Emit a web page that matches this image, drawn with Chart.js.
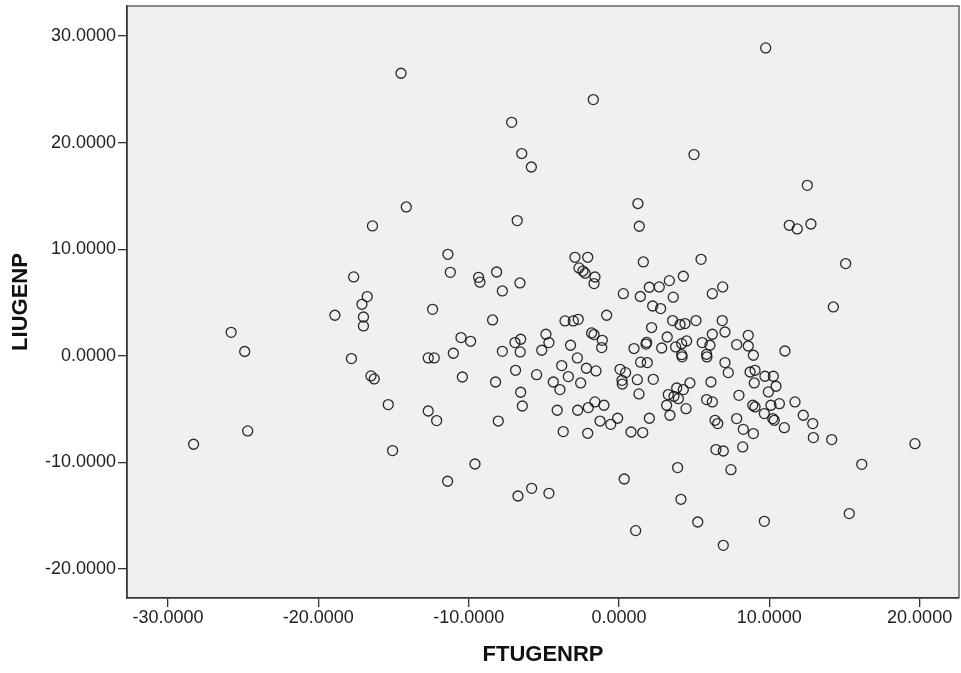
<!DOCTYPE html>
<html>
<head>
<meta charset="utf-8">
<script src="https://cdn.jsdelivr.net/npm/chart.js@4.4.0/dist/chart.umd.min.js"></script>
<style>
  html, body { margin: 0; padding: 0; background: #fff; }
  #wrap { width: 961px; height: 673px; }
</style>
</head>
<body>
<div id="wrap"><canvas id="scatterChart" width="961" height="673"></canvas></div>
<script>
// FTUGENRP (x) and LIUGENP (y)
var ftugenrp = [
  -28.3, -25.8, -24.9, -24.7, -18.9, -17.8, -17.65, -17.1, -17.0, -17.0,
  -16.75, -16.4, -16.5, -16.28, -15.35, -15.06, -14.5, -14.15, -12.4, -12.69,
  -12.29, -12.69, -12.13, -11.38, -11.22, -11.02, -11.4, -10.51, -10.42, -9.87,
  -9.58, -9.34, -9.25, -8.41, -8.21, -8.14, -8.03, -7.76, -7.76, -7.14,
  -6.92, -6.88, -6.77, -6.72, -6.59, -6.54, -6.57, -6.54, -6.43, -6.47,
  -5.83, -5.81, -5.48, -5.14, -4.86, -4.66, -4.66, -4.37, -4.11, -3.93,
  -3.81, -3.71, -3.59, -3.37, -3.22, -3.04, -2.93, -2.77, -2.75, -2.71,
  -2.66, -2.55, -2.4, -2.25, -2.17, -2.08, -2.08, -2.04, -1.82, -1.71,
  -1.66, -1.6, -1.66, -1.6, -1.53, -1.26, -1.11, -1.15, -1.0, -0.82,
  -0.55, -0.09, 0.07, 0.2, 0.22, 0.29, 0.35, 0.44, 0.8, 1.0,
  1.11, 1.22, 1.26, 1.35, 1.33, 1.42, 1.44, 1.58, 1.62, 1.84,
  1.8, 1.88, 2.02, 2.02, 2.17, 2.24, 2.28, 2.68, 2.77, 2.84,
  3.17, 3.21, 3.28, 3.35, 3.39, 3.57, 3.61, 3.66, 3.77, 3.84,
  3.9, 3.95, 4.06, 4.12, 4.17, 4.17, 4.2, 4.28, 4.28, 4.39,
  4.46, 4.5, 4.72, 4.99, 5.12, 5.24, 5.46, 5.54, 5.83, 5.85,
  5.83, 6.05, 6.12, 6.21, 6.21, 6.21, 6.39, 6.57, 6.45, 6.94,
  6.87, 6.9, 6.94, 7.05, 7.05, 7.27, 7.45, 7.83, 7.83, 7.98,
  8.23, 8.27, 8.6, 8.6, 8.72, 8.9, 9.05, 8.94, 8.94, 9.0,
  9.05, 9.67, 9.67, 9.71, 9.76, 9.94, 10.11, 10.23, 10.33, 10.27,
  10.45, 10.67, 11.0, 11.04, 11.33, 11.71, 11.86, 12.26, 12.53, 12.77,
  12.89, 12.93, 14.15, 14.26, 15.08, 15.32, 16.15, 19.69
];
var liugenp = [
  -8.3, 2.2, 0.4, -7.05, 3.8, -0.26, 7.4, 4.83, 3.64, 2.8,
  5.55, 12.18, -1.89, -2.17, -4.58, -8.89, 26.5, 13.96, 4.36, -0.2,
  -0.2, -5.18, -6.08, 9.52, 7.83, 0.24, -11.77, 1.71, -1.99, 1.36,
  -10.15, 7.36, 6.9, 3.36, -2.46, 7.86, -6.12, 6.08, 0.42, 21.9,
  1.24, -1.36, 12.68, -13.15, 6.83, 1.55, 0.36, -3.42, -4.71, 18.97,
  17.71, -12.43, -1.77, 0.52, 2.02, 1.24, -12.9, -2.46, -5.11, -3.17,
  -0.92, -7.11, 3.27, -1.95, 0.99, 3.27, 9.24, -0.2, -5.11, 3.42,
  8.24, -2.55, 7.95, 7.75, -1.17, 9.24, -7.27, -4.86, 2.14, 24.03,
  1.99, 7.39, 6.77, -4.33, -1.42, -6.12, 1.45, 0.77, -4.64, 3.8,
  -6.43, -5.86, -1.27, -2.3, -2.65, 5.83, -11.56, -1.58, -7.15, 0.68,
  -16.4, -2.24, 14.28, 12.15, -3.58, 5.56, -0.6, -7.2, 8.8, 1.25,
  1.1, -0.64, 6.43, -5.86, 2.65, 4.67, -2.21, 6.46, 4.43, 0.73,
  -4.64, 1.76, -3.64, 7.05, -5.58, 3.3, 5.5, -3.8, 0.83, -3.02,
  -10.49, -4.02, 2.93, -13.46, 1.14, 0.1, -0.1, 7.46, -3.17, 3.02,
  -4.96, 1.39, -2.55, 18.87, 3.3, -15.59, 9.05, 1.24, 0.14, -0.11,
  -4.11, 0.99, -2.46, 5.83, 2.02, -4.33, -6.05, -6.36, -8.8, -8.93,
  3.3, 6.46, -17.78, 2.23, -0.64, -1.58, -10.68, 1.05, -5.89, -3.71,
  -8.55, -6.9, 1.92, 0.92, -1.52, -4.64, -4.8, 0.05, -7.3, -2.55,
  -1.36, -5.42, -15.53, -1.92, 28.88, -3.39, -4.64, -5.89, -6.05, -1.92,
  -2.86, -4.49, -6.74, 0.45, 12.24, -4.33, 11.9, -5.58, 15.99, 12.36,
  -6.36, -7.67, -7.86, 4.58, 8.65, -14.8, -10.18, -8.24
];
var xTickValues = [-30, -20, -10, 0, 10, 20];
var yTickValues = [-20, -10, 0, 10, 20, 30];

var points = ftugenrp.map(function (v, i) { return { x: v, y: liugenp[i] }; });

// grey plot area plus the top / right frame lines
var plotFrame = {
  id: 'plotFrame',
  beforeDraw: function (chart) {
    var a = chart.chartArea, c = chart.ctx;
    c.save();
    c.fillStyle = '#f0f0f0';
    c.fillRect(a.left, a.top, a.right - a.left, a.bottom - a.top);
    c.restore();
  },
  afterDraw: function (chart) {
    var a = chart.chartArea, c = chart.ctx;
    c.save();
    c.strokeStyle = '#666';
    c.lineWidth = 1.5;
    c.beginPath();
    c.moveTo(a.left, a.top);
    c.lineTo(a.right, a.top);
    c.lineTo(a.right, a.bottom);
    c.stroke();
    c.restore();
  }
};

var tickFont = { family: 'Liberation Sans, Arial, sans-serif', size: 18 };
var titleFont = { family: 'Liberation Sans, Arial, sans-serif', size: 22, weight: 'bold' };

var ctx = document.getElementById('scatterChart');
var myChart = new Chart(ctx, {
  type: 'scatter',
  data: {
    datasets: [{
      label: 'LIUGENP',
      data: points,
      pointStyle: 'circle',
      pointRadius: 5,
      pointHoverRadius: 5,
      borderWidth: 1.3,
      borderColor: 'rgba(20,20,20,0.9)',
      backgroundColor: 'rgba(0,0,0,0)'
    }]
  },
  options: {
    responsive: false,
    animation: false,
    devicePixelRatio: 1,
    layout: { autoPadding: false, padding: { top: 6, right: 2, left: 0, bottom: 0 } },
    plugins: {
      legend: { display: false },
      tooltip: { enabled: false }
    },
    scales: {
      x: {
        type: 'linear',
        min: -32.73,
        max: 22.62,
        afterBuildTicks: function (s) { s.ticks = xTickValues.map(function (v) { return { value: v }; }); },
        afterFit: function (s) { s.height = 75; s.paddingLeft = 0; s.paddingRight = 0; },
        ticks: {
          autoSkip: false,
          maxRotation: 0,
          padding: 0,
          color: '#222',
          font: tickFont,
          callback: function (v) { return v.toFixed(4); }
        },
        grid: { drawOnChartArea: false, drawTicks: true, tickLength: 9, color: '#333', lineWidth: 1.3 },
        border: { display: true, color: '#333', width: 1.8 },
        title: { display: true, text: 'FTUGENRP', color: '#111', font: titleFont, padding: { top: 0, bottom: 5 } }
      },
      y: {
        type: 'linear',
        min: -22.72,
        max: 32.81,
        afterBuildTicks: function (s) { s.ticks = yTickValues.map(function (v) { return { value: v }; }); },
        afterFit: function (s) { s.width = 127; s.paddingTop = 0; s.paddingBottom = 0; },
        ticks: {
          autoSkip: false,
          padding: 2,
          color: '#222',
          font: tickFont,
          callback: function (v) { return v.toFixed(4); }
        },
        grid: { drawOnChartArea: false, drawTicks: true, tickLength: 9, color: '#333', lineWidth: 1.3 },
        border: { display: true, color: '#333', width: 1.8 },
        title: { display: true, text: 'LIUGENP', color: '#111', font: titleFont, padding: { top: 8, bottom: 0 } }
      }
    }
  },
  plugins: [plotFrame]
});
</script>
</body>
</html>
